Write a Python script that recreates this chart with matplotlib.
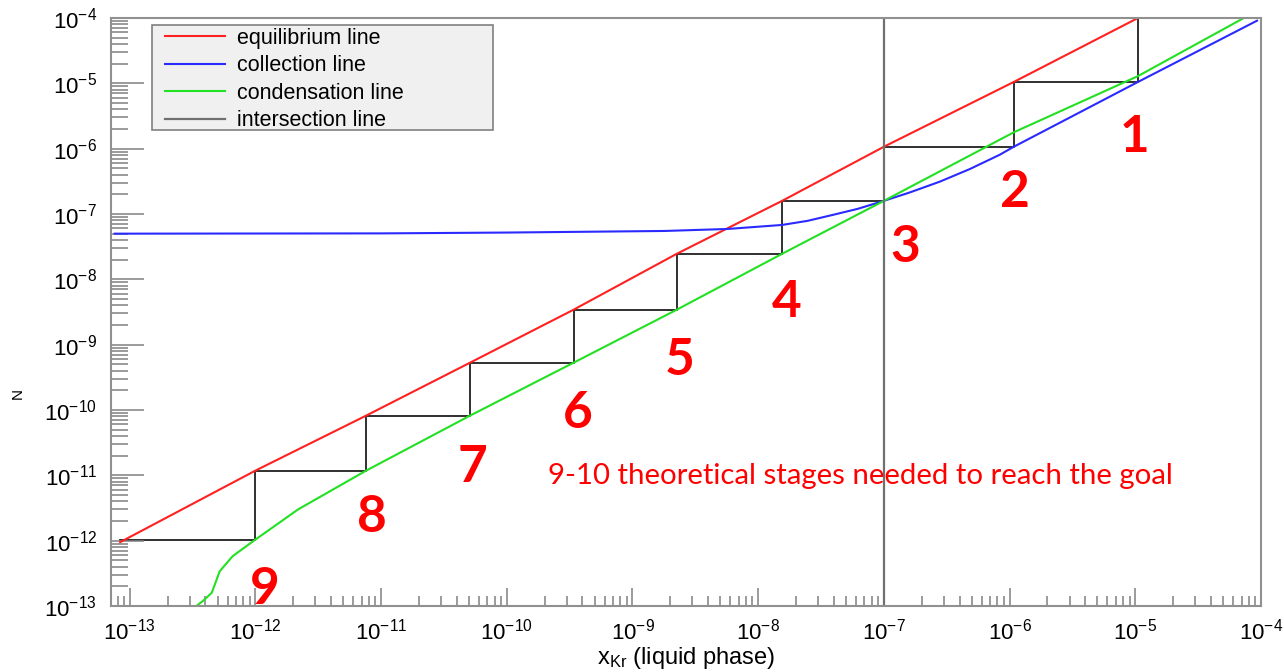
import matplotlib
matplotlib.use("Agg")
import matplotlib.pyplot as plt
from matplotlib.patches import Rectangle
from matplotlib.ticker import LogLocator, NullFormatter

# equilibrium line (red)
eq_x = [8.4e-14, 1.0e-12, 7.6e-12, 5.1e-11, 3.4e-10, 2.25e-9, 1.55e-8, 1.0e-7, 1.08e-6, 1.05e-5]
eq_y = [9.5e-13, 1.18e-11, 8.2e-11, 5.3e-10, 3.43e-9, 2.46e-8, 1.59e-7, 1.07e-6, 1.05e-5, 1.0e-4]

# collection line (blue)
col_x = [7.6e-14, 1.0e-11, 1.0e-10, 1.8e-9, 5.7e-9, 1.55e-8, 2.48e-8, 3.93e-8, 6.2e-8, 1.0e-7,
         1.61e-7, 2.79e-7, 4.83e-7, 8.37e-7, 1.08e-6, 1.05e-5, 9.3e-5]
col_y = [5.0e-8, 5.05e-8, 5.2e-8, 5.5e-8, 5.9e-8, 6.8e-8, 7.87e-8, 9.7e-8, 1.2e-7, 1.59e-7,
         2.14e-7, 3.13e-7, 4.88e-7, 8.09e-7, 1.07e-6, 1.05e-5, 9.1e-5]

# condensation line (green)
cond_x = [3.4e-13, 3.95e-13, 4.5e-13, 5.2e-13, 6.6e-13, 1.0e-12, 1.56e-12, 2.18e-12, 7.6e-12,
          5.1e-11, 3.4e-10, 2.25e-9, 1.55e-8, 1.0e-7, 1.08e-6, 1.05e-5, 7.3e-5]
cond_y = [1.0e-13, 1.26e-13, 1.6e-13, 3.4e-13, 5.8e-13, 1.04e-12, 1.9e-12, 3.0e-12, 1.18e-11,
          8.2e-11, 5.3e-10, 3.43e-9, 2.46e-8, 1.59e-7, 1.78e-6, 1.29e-5, 1.0e-4]

# theoretical stages (corner of each step)
stage_x = [1.05e-5, 1.08e-6, 1.0e-7, 1.55e-8, 2.25e-9, 3.4e-10, 5.1e-11, 7.6e-12, 1.0e-12]
stage_y = [1.05e-5, 1.07e-6, 1.59e-7, 2.46e-8, 3.43e-9, 5.3e-10, 8.2e-11, 1.18e-11, 1.04e-12]
stage_labels = ['1', '2', '3', '4', '5', '6', '7', '8', '9']
# where the stage numbers sit (data coords, baseline)
label_pos = [(9.9e-6, 8.9e-7), (1.1e-6, 1.29e-7), (1.47e-7, 1.86e-8), (1.69e-8, 2.68e-9),
             (2.38e-9, 3.48e-10), (3.68e-10, 5.38e-11), (5.37e-11, 7.8e-12), (8.45e-12, 1.38e-12),
             (1.19e-12, 1.06e-13)]

x_intersect = 1.0e-7
decades = list(range(-13, -3))

plt.rcParams['font.family'] = ['Liberation Sans', 'DejaVu Sans']
plt.rcParams['mathtext.fontset'] = 'custom'
plt.rcParams['mathtext.rm'] = 'Liberation Sans'
plt.rcParams['mathtext.it'] = 'Liberation Sans:italic'
plt.rcParams['axes.unicode_minus'] = False

fig = plt.figure(figsize=(12.84, 6.72), dpi=100)
ax = fig.add_axes([111 / 1284, 66 / 672, 1150 / 1284, 588 / 672])

ax.plot(eq_x, eq_y, color='#ff2020', lw=1.5, label='equilibrium line')
ax.plot(col_x, col_y, color='#2a2aff', lw=1.5, label='collection line')
ax.plot(cond_x, cond_y, color='#22e022', lw=1.5, label='condensation line')
ax.axvline(x_intersect, color='#707070', lw=1.6, label='intersection line')

# staircase between the lines
sx, sy = [stage_x[0]], [eq_y[-1]]
for i in range(len(stage_x)):
    sx.append(stage_x[i]); sy.append(stage_y[i])
    nxt = stage_x[i + 1] if i + 1 < len(stage_x) else eq_x[0]
    sx.append(nxt); sy.append(stage_y[i])
ax.plot(sx, sy, color='#202020', lw=1.3, zorder=1)

for lab, (px, py) in zip(stage_labels, label_pos):
    ax.text(px, py, lab, color='#ff0000', fontsize=37, fontweight='bold',
            family=['Lato', 'DejaVu Sans'], ha='center', va='baseline')

ax.text(0.380, 0.2075, '9-10 theoretical stages needed to reach the goal', transform=ax.transAxes,
        color='#ff0000', fontsize=21.2, family=['Lato', 'DejaVu Sans'], ha='left', va='baseline')

ax.set_xscale('log')
ax.set_yscale('log')
ax.set_xlim(7.1e-14, 1e-4)
ax.set_ylim(1e-13, 1e-4)

# only the decades inside the view get a label
ax.set_xticks([10.0 ** k for k in decades])
ax.set_yticks([10.0 ** k for k in decades])
ax.set_xticklabels([r'$10^{%d}$' % k for k in decades])
ax.set_yticklabels([r'$10^{%d}$' % k for k in decades])
ax.xaxis.set_minor_locator(LogLocator(base=10, subs=range(2, 10), numticks=200))
ax.yaxis.set_minor_locator(LogLocator(base=10, subs=range(2, 10), numticks=200))
ax.xaxis.set_minor_formatter(NullFormatter())
ax.yaxis.set_minor_formatter(NullFormatter())

ax.tick_params(axis='y', which='major', direction='in', length=24, width=1.1, color='#808080',
               labelsize=16, pad=10)
ax.tick_params(axis='y', which='minor', direction='in', length=12, width=1.1, color='#808080')
ax.tick_params(axis='x', which='major', direction='in', length=13, width=1.1, color='#808080',
               labelsize=16, pad=9)
ax.tick_params(axis='x', which='minor', direction='in', length=7, width=1.1, color='#808080')

for sp in ax.spines.values():
    sp.set_color('#909090')
    sp.set_linewidth(1.5)

ax.set_xlabel(r'x$_{\rm Kr}$ (liquid phase)', fontsize=17)
ax.xaxis.set_label_coords(0.5, -0.066)
ax.set_ylabel('N', fontsize=11)
ax.yaxis.set_label_coords(-0.075, 0.362)

# legend box drawn separately (it is wider than its entries)
ax.add_patch(Rectangle((0.0357, 0.8095), 0.2965, 0.1785, transform=ax.transAxes,
                       facecolor='#f0f0f0', edgecolor='#808080', lw=1.2, zorder=4))
leg = ax.legend(loc='upper left', bbox_to_anchor=(0.0393, 0.9976), borderaxespad=0,
                fontsize=15.5, frameon=False, handlelength=2.8, handletextpad=0.56,
                labelspacing=0.30, borderpad=0.4)
leg.set_zorder(5)

fig.savefig('out.png', dpi=100)
